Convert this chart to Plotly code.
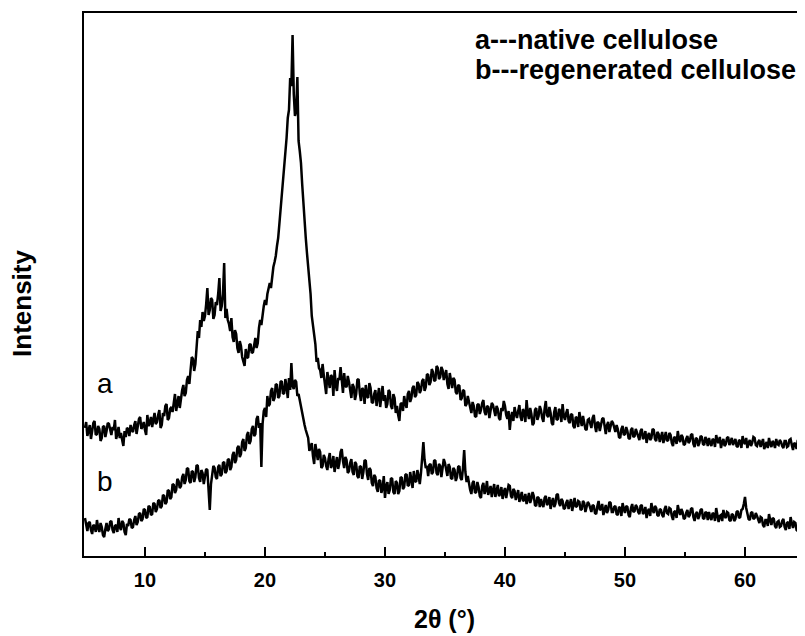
import plotly.graph_objects as go

# 2-theta grid (degrees), 0.1 deg step, 5..65
two_theta = [round(5 + 0.1 * i, 1) for i in range(601)]

# curve a: native cellulose (arbitrary intensity units)
native = [
    128,134,120,125,131,117,124,133,135,121,122,130,127,115,118,129,130,119,125,133,
    132,124,121,129,126,136,117,122,129,118,123,116,110,125,119,128,127,120,131,126,
    124,131,135,122,128,137,139,127,130,134,126,121,141,130,133,139,129,136,143,132,
    134,141,146,128,131,143,140,150,152,136,138,147,149,144,157,162,145,151,160,148,
    158,166,171,160,163,176,180,172,186,199,197,185,192,210,225,218,236,229,244,235,
    240,252,268,241,246,258,256,237,241,254,251,262,278,245,250,262,293,238,247,236,
    232,225,238,219,214,226,222,208,203,215,210,199,195,190,207,198,199,211,212,203,
    204,214,218,208,213,228,236,231,244,250,256,251,262,270,273,268,281,289,294,300,
    310,318,332,345,360,378,392,405,418,438,446,478,470,521,462,440,445,479,415,405,
    393,372,350,335,318,303,290,270,262,240,232,220,212,194,198,188,186,178,192,181,
    170,162,184,175,168,181,179,160,186,171,165,178,176,189,172,163,183,170,169,180,
    174,165,158,172,169,156,162,176,177,163,155,168,166,152,171,160,158,173,168,154,
    153,162,166,150,158,168,149,157,170,155,161,148,152,166,164,150,147,162,158,143,
    150,141,135,152,153,145,160,152,148,162,165,154,158,168,170,159,161,174,172,163,
    166,175,177,165,169,182,181,171,174,187,184,175,176,190,188,177,179,189,186,176,
    180,186,172,167,183,175,168,178,176,164,162,171,170,156,158,166,165,150,152,160,
    155,147,143,154,150,140,139,151,152,142,146,153,156,144,141,150,149,138,144,153,
    151,143,140,150,147,138,136,148,145,155,150,141,137,145,126,139,144,135,149,142,
    138,145,151,139,135,147,144,134,156,143,137,148,142,131,133,146,148,136,140,150,
    146,138,134,147,155,141,139,149,143,133,131,144,149,136,137,147,145,134,152,140,
    136,143,147,135,133,142,141,130,128,139,138,129,144,136,130,140,135,127,126,136,
    137,131,128,138,141,130,124,134,133,125,130,137,138,127,122,131,134,124,129,135,
    133,127,124,131,127,119,118,127,130,121,122,129,125,118,117,126,128,119,120,127,
    124,119,116,125,127,117,119,125,113,120,123,116,118,127,126,117,115,124,122,114,
    119,124,113,118,124,115,116,123,121,113,110,119,118,112,125,117,114,121,119,111,
    112,117,120,113,115,121,122,112,109,118,117,110,113,120,119,112,111,119,116,110,
    118,113,110,117,116,109,121,115,113,119,108,114,117,110,112,118,119,111,114,118,
    111,115,117,110,109,116,115,108,120,114,112,118,108,113,116,110,113,119,118,111,
    110,114,116,109,112,117,107,111,114,108,118,112,109,115,113,108,117,112,111,116,
    114,110,108,115,115,109,110,116,117,111,106,113,112,107,116,110,109,115,113,108,
    111,
]

# curve b: regenerated cellulose (arbitrary intensity units)
regenerated = [
    38,30,25,33,34,26,22,31,30,24,36,28,24,33,29,21,19,27,33,25,
    27,34,35,26,23,30,31,24,38,29,26,35,33,24,21,32,30,37,36,28,
    29,36,40,31,34,42,43,35,37,47,46,38,39,50,49,41,42,53,52,44,
    47,55,56,48,50,61,60,52,54,66,65,57,59,72,71,63,66,77,75,68,
    70,79,82,72,76,88,87,75,73,85,84,74,79,91,90,78,74,86,83,72,
    78,87,86,70,46,72,80,90,88,79,77,89,91,80,82,93,94,83,85,96,
    97,86,89,101,104,93,96,108,110,99,102,114,117,105,108,121,124,112,115,127,
    130,120,122,137,140,128,133,89,132,145,148,139,160,150,152,165,168,155,158,172,
    171,158,160,174,175,162,163,177,169,158,178,166,193,170,167,176,174,160,162,155,
    150,143,138,131,126,122,118,105,108,113,100,92,112,101,96,107,104,88,90,101,
    98,90,86,97,103,88,91,100,84,92,99,87,93,104,107,95,88,99,96,83,
    85,93,97,84,81,94,92,80,78,90,89,77,84,96,95,82,76,88,86,73,
    70,81,79,68,64,76,75,63,68,80,58,70,74,62,66,78,77,64,62,75,
    73,62,65,79,78,67,69,81,82,70,71,84,76,68,85,75,74,86,80,72,
    83,95,114,96,88,90,80,91,92,82,84,96,95,83,81,92,90,79,86,97,
    93,85,80,92,89,78,77,88,86,75,79,89,90,78,76,88,106,84,74,80,
    72,66,62,73,75,63,64,74,69,60,58,70,73,62,66,75,61,67,70,59,
    66,72,59,64,71,60,62,69,57,64,68,58,63,71,70,60,58,67,65,56,
    61,66,54,58,64,55,56,62,52,57,63,53,57,64,60,51,50,59,58,49,
    57,52,49,58,60,51,53,59,47,54,58,49,52,61,62,53,50,57,55,47,
    48,53,56,47,51,57,45,50,58,49,50,55,54,46,47,55,53,44,49,54,
    52,47,44,51,50,43,42,50,55,46,47,52,41,46,51,43,46,54,53,44,
    44,49,50,42,41,49,48,40,53,47,43,50,49,41,39,48,52,44,45,51,
    49,44,42,50,51,42,44,49,38,45,47,40,53,46,43,50,48,41,40,47,
    46,41,39,47,50,43,42,48,47,40,36,44,45,38,51,45,41,47,44,37,
    38,43,46,39,41,47,48,39,35,42,44,37,40,46,47,38,37,44,43,36,
    44,39,36,43,42,35,48,41,34,40,41,35,46,40,38,44,43,36,35,42,
    41,35,37,44,45,38,39,46,47,52,59,48,42,37,36,43,44,37,38,43,
    40,35,33,39,38,31,29,36,36,30,42,36,31,38,37,30,28,34,35,29,
    30,35,37,29,26,33,34,27,39,33,28,34,33,26,25,32,31,24,36,30,
    32,
]

x_ticks = [10, 20, 30, 40, 50, 60]
legend_lines = ["a---native cellulose", "b---regenerated cellulose"]
curve_labels = ["a", "b"]

FONT = "Arial, Liberation Sans, sans-serif"

fig = go.Figure()
fig.add_trace(go.Scatter(x=two_theta, y=native, mode="lines",
                         line=dict(color="black", width=2.5), showlegend=False))
fig.add_trace(go.Scatter(x=two_theta, y=regenerated, mode="lines",
                         line=dict(color="black", width=2.5), showlegend=False))

fig.update_layout(
    width=797, height=628,
    margin=dict(l=76, r=0, t=5, b=80),
    paper_bgcolor="white", plot_bgcolor="white",
    font=dict(family=FONT, color="black"),
)
fig.update_xaxes(
    range=[4.92, 65.0], tickvals=x_ticks, ticktext=[str(t) for t in x_ticks],
    ticks="inside", ticklen=9, tickwidth=2, tickcolor="black",
    minor=dict(dtick=5, tick0=5, ticks="inside", ticklen=4, tickwidth=2, tickcolor="black"),
    showline=True, linewidth=2, linecolor="black", mirror=True,
    showgrid=False, zeroline=False,
    tickfont=dict(size=20, family=FONT, weight="bold"),
    ticklabelstandoff=5,
)
fig.update_yaxes(
    range=[0, 543], showticklabels=False, ticks="",
    showline=True, linewidth=2, linecolor="black",
    showgrid=False, zeroline=False,
)

ann = []
ann.append(dict(text="Intensity", x=-0.086, y=0.466, xref="paper", yref="paper",
                textangle=-90, showarrow=False, font=dict(size=26, family=FONT, weight="bold"),
                xanchor="center", yanchor="middle"))
ann.append(dict(text="2θ (°)", x=0.5, y=-0.146, xref="paper", yref="paper",
                showarrow=False, font=dict(size=25, family=FONT, weight="bold"),
                xanchor="center", yanchor="bottom"))
for txt, yy in zip(legend_lines, [0.950, 0.895]):
    ann.append(dict(text=txt, x=0.5395, y=yy, xref="paper", yref="paper",
                    showarrow=False, font=dict(size=27, family=FONT, weight="bold"),
                    xanchor="left", yanchor="middle"))
for txt, yy in zip(curve_labels, [0.317, 0.138]):
    ann.append(dict(text=txt, x=0.029, y=yy, xref="paper", yref="paper",
                    showarrow=False, font=dict(size=28, family=FONT),
                    xanchor="center", yanchor="middle"))
fig.update_layout(annotations=ann)

fig.write_html("out.html")
